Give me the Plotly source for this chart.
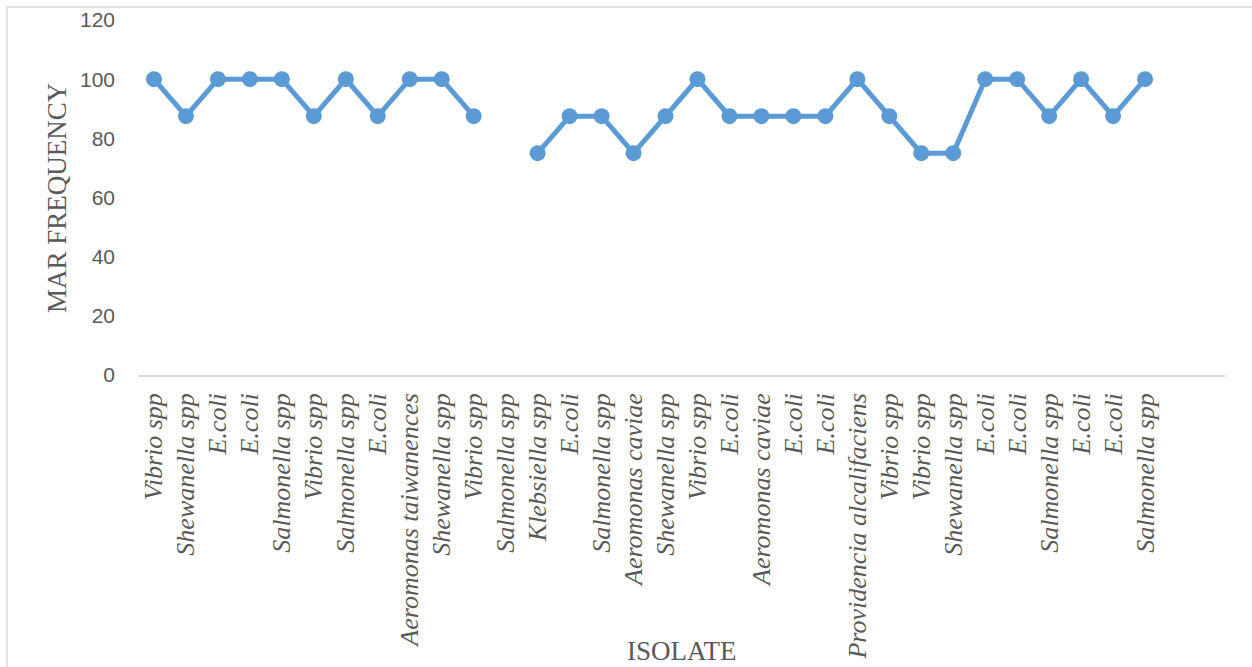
import plotly.graph_objects as go

isolates = ["Vibrio spp", "Shewanella spp", "E.coli", "E.coli", "Salmonella spp",
            "Vibrio spp", "Salmonella spp", "E.coli", "Aeromonas taiwanences",
            "Shewanella spp", "Vibrio spp", "Salmonella spp", "Klebsiella spp",
            "E.coli", "Salmonella spp", "Aeromonas caviae", "Shewanella spp",
            "Vibrio spp", "E.coli", "Aeromonas caviae", "E.coli", "E.coli",
            "Providencia alcalifaciens", "Vibrio spp", "Vibrio spp",
            "Shewanella spp", "E.coli", "E.coli", "Salmonella spp", "E.coli",
            "E.coli", "Salmonella spp"]
mar_frequency = [100, 87.5, 100, 100, 100, 87.5, 100, 87.5, 100, 100, 87.5, None,
                 75, 87.5, 87.5, 75, 87.5, 100, 87.5, 87.5, 87.5, 87.5, 100, 87.5,
                 75, 75, 100, 100, 87.5, 100, 87.5, 100]
y_ticks = [0, 20, 40, 60, 80, 100, 120]

positions = list(range(len(isolates)))

fig = go.Figure()
fig.add_trace(go.Scatter(
    x=positions, y=mar_frequency, mode="lines+markers",
    line=dict(color="#5B9BD5", width=5),
    marker=dict(color="#5B9BD5", size=16),
    connectgaps=False, showlegend=False,
))

L, R, T, B = 138, 27, 20, 292
W, H = 1252, 667
pw, ph = W - L - R, H - T - B

def px_x(p):
    return (p - L) / pw

def px_y(p):
    return (H - B - p) / ph

fig.update_layout(
    width=W, height=H,
    margin=dict(l=L, r=R, t=T, b=B, autoexpand=False),
    paper_bgcolor="white", plot_bgcolor="white",
    xaxis=dict(
        range=[-0.5, 33.5], tickvals=positions, ticktext=[f"<i>{s}</i>" for s in isolates],
        tickangle=-90, showgrid=False, zeroline=False, automargin=False,
        showline=True, linecolor="#D9D9D9", linewidth=1.5,
        tickfont=dict(family="Liberation Serif", size=26, color="#595959"),
        ticks="", ticklabelstandoff=6,
    ),
    yaxis=dict(
        range=[0, 120], tickvals=y_ticks, showgrid=False, zeroline=False,
        showline=False, ticks="", automargin=False,
        tickfont=dict(family="Liberation Sans", size=21, color="#595959"),
        ticklabelstandoff=22,
    ),
    shapes=[dict(type="rect", xref="paper", yref="paper",
                 x0=px_x(7), x1=px_x(1260), y0=px_y(680), y1=px_y(7),
                 line=dict(color="#D9D9D9", width=1.5), fillcolor="rgba(0,0,0,0)",
                 layer="below")],
    annotations=[
        dict(text="MAR FREQUENCY", xref="paper", yref="paper", x=px_x(57), y=px_y(198),
             xanchor="center", yanchor="middle",
             showarrow=False, textangle=-90,
             font=dict(family="Liberation Serif", size=27, color="#595959")),
        dict(text="ISOLATE", xref="paper", yref="paper", x=px_x(682), y=px_y(651),
             xanchor="center", yanchor="middle",
             showarrow=False,
             font=dict(family="Liberation Serif", size=27, color="#595959")),
    ],
)

fig.write_html("out.html")
